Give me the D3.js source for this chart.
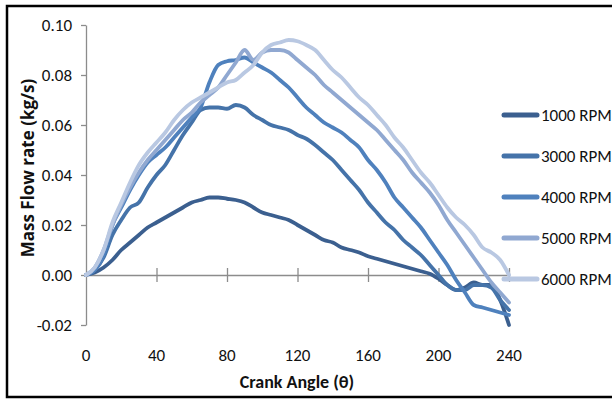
<!DOCTYPE html>
<html><head><meta charset="utf-8">
<script src="https://cdn.jsdelivr.net/npm/d3@7"></script>
<style>body{margin:0;background:#fff}svg{display:block}</style>
</head><body><svg id="c" width="612" height="400"></svg>
<script>
const angles = [0,5,10,15,20,25,30,35,40,45,50,55,60,65,70,75,80,85,90,95,100,105,110,115,120,125,130,135,140,145,150,155,160,165,170,175,180,185,190,195,200,205,210,215,220,225,230,235,240];
const rpm1000 = [0,0.001,0.003,0.006,0.010,0.013,0.016,0.019,0.021,0.023,0.025,0.027,0.029,0.030,0.031,0.031,0.0305,0.030,0.029,0.027,0.025,0.024,0.023,0.022,0.020,0.018,0.016,0.014,0.013,0.011,0.010,0.009,0.0075,0.0065,0.0055,0.0045,0.0035,0.0025,0.0015,0.0005,-0.0015,-0.004,-0.006,-0.005,-0.003,-0.004,-0.004,-0.010,-0.020];
const rpm3000 = [0,0.002,0.007,0.016,0.022,0.027,0.029,0.035,0.040,0.044,0.050,0.056,0.061,0.066,0.067,0.067,0.0665,0.068,0.067,0.064,0.062,0.060,0.059,0.058,0.056,0.0545,0.052,0.049,0.046,0.042,0.038,0.034,0.029,0.025,0.021,0.018,0.014,0.011,0.008,0.004,0.000,-0.004,-0.006,-0.006,-0.004,-0.004,-0.005,-0.010,-0.014];
const rpm4000 = [0,0.002,0.008,0.020,0.027,0.034,0.040,0.045,0.048,0.051,0.055,0.059,0.063,0.067,0.077,0.084,0.0855,0.086,0.087,0.085,0.083,0.081,0.078,0.075,0.071,0.067,0.064,0.061,0.059,0.057,0.054,0.051,0.046,0.042,0.037,0.031,0.027,0.023,0.019,0.014,0.009,0.004,-0.002,-0.007,-0.012,-0.013,-0.014,-0.015,-0.016];
const rpm5000 = [0,0.003,0.010,0.020,0.028,0.035,0.041,0.046,0.050,0.054,0.058,0.062,0.065,0.069,0.072,0.075,0.080,0.085,0.090,0.086,0.089,0.090,0.090,0.089,0.086,0.083,0.080,0.076,0.073,0.070,0.067,0.064,0.061,0.058,0.054,0.050,0.046,0.041,0.037,0.033,0.028,0.022,0.017,0.012,0.007,0.002,-0.003,-0.007,-0.011];
const rpm6000 = [0,0.003,0.010,0.021,0.029,0.037,0.044,0.049,0.053,0.057,0.062,0.066,0.069,0.071,0.073,0.075,0.077,0.078,0.081,0.084,0.089,0.092,0.093,0.094,0.0935,0.092,0.090,0.086,0.082,0.079,0.075,0.071,0.068,0.064,0.060,0.055,0.051,0.046,0.041,0.037,0.032,0.027,0.023,0.020,0.016,0.011,0.009,0.006,0.000];
const seriesNames = ["1000 RPM","3000 RPM","4000 RPM","5000 RPM","6000 RPM"];
const seriesValues = [rpm1000,rpm3000,rpm4000,rpm5000,rpm6000];
const seriesColors = ["#3b5f8f","#4573a9","#4f81bd","#90a8d1","#b9c8e2"];
const xTicks = [0,40,80,120,160,200,240];
const yTicks = [-0.02,0,0.02,0.04,0.06,0.08,0.10];

const svg = d3.select("#c");
const font = "Carlito, Calibri, 'Liberation Sans Narrow', 'Arial Narrow', 'Liberation Sans', sans-serif";
const x = d3.scaleLinear().domain([0,240]).range([86,509]);
const y = d3.scaleLinear().domain([-0.02,0.10]).range([325,25]);
const fmt = d => d.toFixed(2);

// frame
svg.append("rect").attr("x",7).attr("y",6).attr("width",620).attr("height",391)
  .attr("fill","none").attr("stroke","#000").attr("stroke-width",2.5);

// y axis
const yAxis = d3.axisLeft(y).tickValues(yTicks).tickFormat(fmt).tickSize(5).tickSizeOuter(0);
const gy = svg.append("g").attr("transform","translate(86,0)").call(yAxis);
gy.select(".domain").attr("stroke","#8c8c8c").attr("stroke-width",1.3);
gy.selectAll(".tick line").attr("stroke","#8c8c8c").attr("stroke-width",1.3);
gy.selectAll(".tick text").attr("x",-14).attr("font-family",font).attr("font-size",17).attr("fill","#111");

// x axis at zero
const xAxis = d3.axisBottom(x).tickValues(xTicks.slice(1)).tickSize(6).tickSizeOuter(0).tickFormat("");
const gx = svg.append("g").attr("transform",`translate(0,${y(0)})`).call(xAxis);
gx.select(".domain").attr("stroke","#8c8c8c").attr("stroke-width",1.3);
gx.selectAll(".tick line").attr("stroke","#8c8c8c").attr("stroke-width",1.3).attr("y1",-7).attr("y2",7);

// x tick labels below the plot
svg.append("g").selectAll("text").data(xTicks).join("text")
  .attr("x",d=>x(d)).attr("y",361).attr("text-anchor","middle")
  .attr("font-family",font).attr("font-size",17).attr("fill","#111").text(d=>d);

// lines
const line = d3.line().x((d,i)=>x(angles[i])).y(d=>y(d)).curve(d3.curveMonotoneX);
svg.append("g").selectAll("path").data(seriesValues).join("path")
  .attr("d",d=>line(d)).attr("fill","none")
  .attr("stroke",(d,i)=>seriesColors[i]).attr("stroke-width",3.8)
  .attr("stroke-linejoin","round").attr("stroke-linecap","round");

// titles
svg.append("text").attr("x",297).attr("y",388).attr("text-anchor","middle")
  .attr("font-family",font).attr("font-weight","bold").attr("font-size",18).attr("fill","#111")
  .text("Crank Angle (θ)");
svg.append("text").attr("transform","translate(34,168) rotate(-90)").attr("text-anchor","middle")
  .attr("font-family","'Open Sans', 'DejaVu Sans', sans-serif").attr("font-weight","bold").attr("font-size",17).attr("fill","#111")
  .text("Mass Flow rate (kg/s)");

// legend
const lg = svg.append("g").selectAll("g").data(seriesNames).join("g")
  .attr("transform",(d,i)=>`translate(0,${115+i*41})`);
lg.append("line").attr("x1",504).attr("x2",537).attr("y1",0).attr("y2",0)
  .attr("stroke",(d,i)=>seriesColors[i]).attr("stroke-width",5).attr("stroke-linecap","round");
lg.append("text").attr("x",541).attr("y",6).attr("font-family",font).attr("font-size",17)
  .attr("fill","#111").text(d=>d);
</script></body></html>
